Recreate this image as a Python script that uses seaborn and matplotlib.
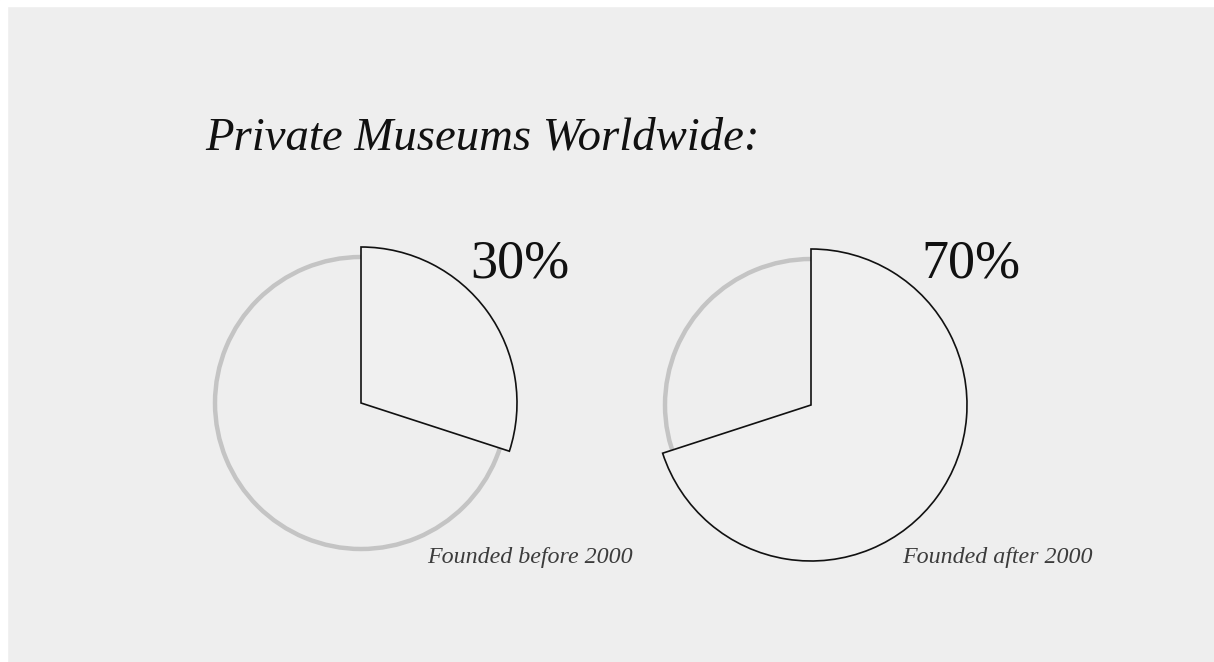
import matplotlib.pyplot as plt
import seaborn as sns

# values
groups = ['Founded before 2000', 'Founded after 2000']
shares = [30, 70]
pct_labels = ['30%', '70%']
title = 'Private Museums Worldwide:'

sns.set_style("white")
plt.rcParams['font.family'] = ['Liberation Serif', 'DejaVu Serif']

W, H = 1214, 662
bg_col = '#eeeeee'
fig = plt.figure(figsize=(W / 100, H / 100), dpi=100, facecolor=bg_col,
                 edgecolor=bg_col, linewidth=0)

# one axes over the whole figure, data units = pixels (y up)
ax = fig.add_axes([0, 0, 1, 1])
ax.set_facecolor(bg_col)

centers = [(361, H - 403), (811, H - 405)]
r_out = 156
r_ring = 146

for (cx, cy), share in zip(centers, shares):
    # gray full circle behind
    ax.pie([1], center=(cx, cy), radius=r_ring, startangle=90,
           wedgeprops=dict(facecolor='none', edgecolor='#c4c4c4',
                           linewidth=3.2))
    # black outlined slice, clockwise from 12 o'clock
    wedges, _ = ax.pie([share, 100 - share], center=(cx, cy), radius=r_out,
                       startangle=90, counterclock=False,
                       wedgeprops=dict(facecolor='#f0f0f0', edgecolor='#111111',
                                       linewidth=1.2))
    wedges[1].set_visible(False)

ax.set_xlim(0, W)
ax.set_ylim(0, H)
ax.set_aspect('equal')
ax.set_axis_off()

# thin white margin on top and left, as in the original scan
for rect in [(0, 1 - 6 / H, 1, 6 / H), (0, 0, 7 / W, 1)]:
    fig.patches.append(plt.Rectangle(rect[:2], rect[2], rect[3],
                                     transform=fig.transFigure,
                                     color='white', zorder=10))

fig.text(205 / W, 1 - 150 / H, title, fontsize=33.7, style='italic',
         color='#111111', ha='left', va='baseline')

pct_pos = [(470, 277), (921, 277)]
for (px, py), lab in zip(pct_pos, pct_labels):
    fig.text(px / W, 1 - py / H, lab, fontsize=39, color='#111111',
             ha='left', va='baseline')

lab_pos = [(427, 563), (902, 563)]
for (px, py), lab in zip(lab_pos, groups):
    fig.text(px / W, 1 - py / H, lab, fontsize=17.3, style='italic',
             color='#3c3c3c', ha='left', va='baseline')

fig.savefig('out.png', dpi=100, facecolor=bg_col, edgecolor=bg_col)
